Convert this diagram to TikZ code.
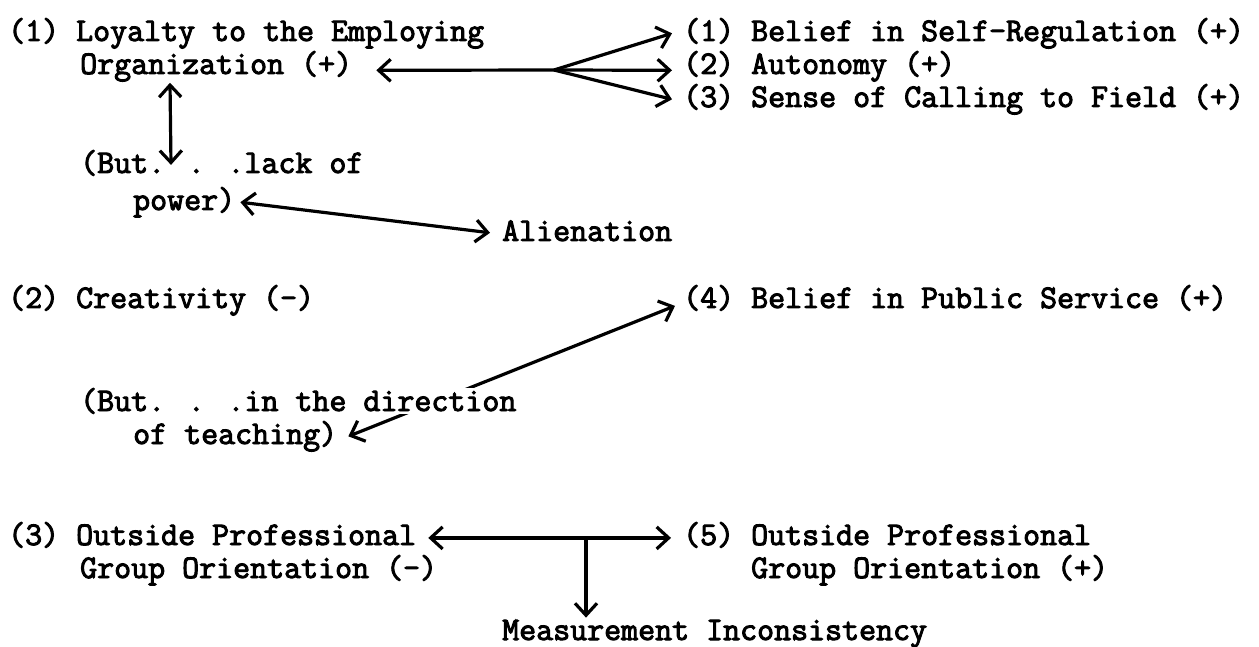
\documentclass[tikz,border=0pt]{standalone}
\usepackage{fontspec}
\newfontfamily\tw{Latin Modern Mono}[FakeBold=3]
\usetikzlibrary{arrows.meta}
\pgfdeclarelayer{bg}
\pgfsetlayers{bg,main}
\tikzset{
  txt/.style={font=\tw\fontsize{33}{34}\selectfont, inner sep=0pt, anchor=base west},
  barb/.tip={Straight Barb[length=12pt,width=22pt]},
  arr/.style={line width=3.2pt, -barb},
  dbl/.style={line width=3.2pt, barb-barb}
}
\begin{document}
\begin{tikzpicture}[x=1pt,y=-1pt]
\useasboundingbox (0,0) rectangle (1259,647);
% left column
\node[txt] (loy)   at (8,41)   {(1) Loyalty to the Employing};
\node[txt] (org)   at (80,74)  {Organization (+)};
\node[txt] (lack)  at (80,173) {(But. . .lack of};
\node[txt] (pow)   at (133,210) {power)};
\node[txt] (alien) at (502,241) {Alienation};
\node[txt] (crea)  at (8,308)  {(2) Creativity (-)};
\node[txt,fill=white] (dir) at (80,411) {(But. . .in the direction};
\node[txt] (teach) at (133,444) {of teaching)};
\node[txt] (out3)  at (8,545)  {(3) Outside Professional};
\node[txt] (grp3)  at (80,578) {Group Orientation (-)};
% right column
\node[txt] (b1)    at (683,41)  {(1) Belief in Self-Regulation (+)};
\node[txt] (b2)    at (683,74)  {(2) Autonomy (+)};
\node[txt] (b3)    at (683,107) {(3) Sense of Calling to Field (+)};
\node[txt] (pub)   at (683,308) {(4) Belief in Public Service (+)};
\node[txt] (out5)  at (683,545) {(5) Outside Professional};
\node[txt] (grp5)  at (751,578) {Group Orientation (+)};
\node[txt] (meas)  at (502,640) {Measurement Inconsistency};
% junction points
\coordinate (J) at (554,70);
\coordinate (K) at (586,539);
\begin{pgfonlayer}{bg}
\draw[arr] (J) -- ([xshift=24pt,yshift=-4pt]org.east);
\draw[arr] (J) -- ([xshift=-11pt]b1.west);
\draw[arr] (J) -- ([xshift=-11pt,yshift=-4pt]b2.west);
\draw[arr] (J) -- ([xshift=-11pt]b3.west);
\draw[dbl] ([xshift=90pt,yshift=-1pt]org.south west) -- ([xshift=91pt,yshift=-15pt]lack.north west);
\draw[dbl] ([xshift=5pt]pow.east) -- ([xshift=-12pt,yshift=-2pt]alien.west);
\draw[dbl] ([xshift=-8pt,yshift=-8pt]pub.west) -- ([xshift=11pt]teach.east);
\draw[dbl] ([xshift=12pt,yshift=-3pt]out3.east) -- ([xshift=-12pt,yshift=-3pt]out5.west);
\draw[arr] (K) -- ([xshift=84pt,yshift=2pt]meas.north west);
\end{pgfonlayer}
\end{tikzpicture}
\end{document}
